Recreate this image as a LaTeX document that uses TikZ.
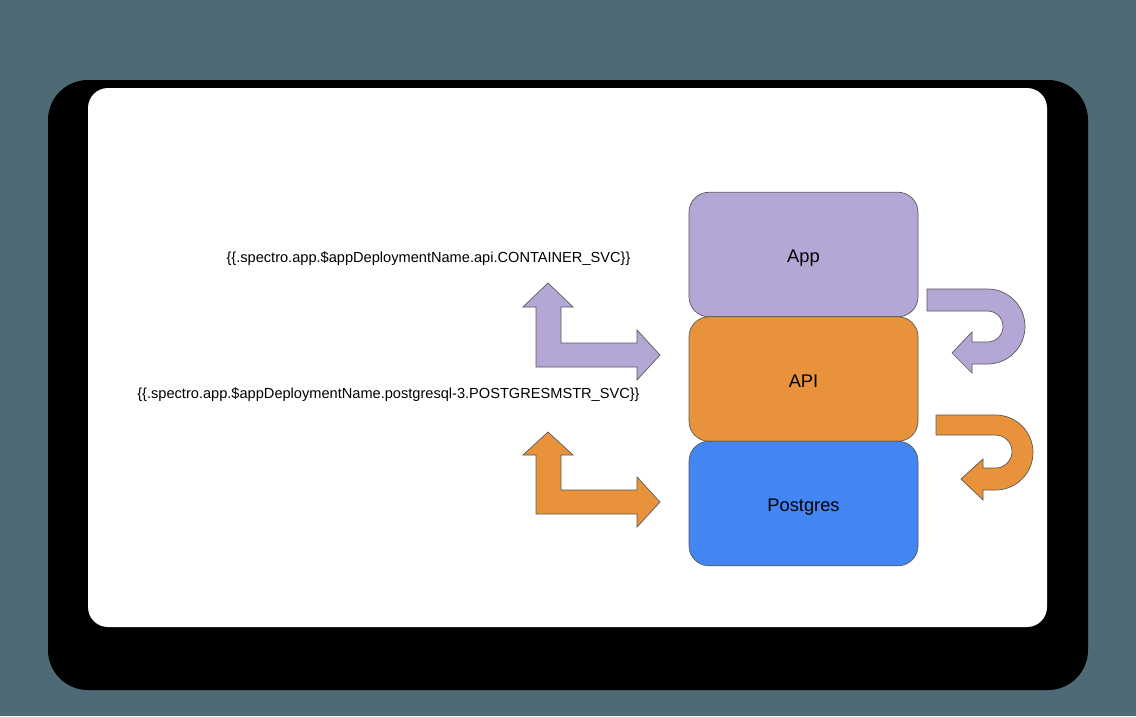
\documentclass[tikz,border=0pt]{standalone}
\usepackage{fontspec}
\setmainfont{Liberation Sans}
\definecolor{bgc}{HTML}{4E6A74}
\definecolor{appc}{HTML}{B4A7D6}
\definecolor{apic}{HTML}{E8933B}
\definecolor{pgc}{HTML}{4385F3}
\definecolor{linec}{HTML}{595959}
\tikzset{
  box/.style={draw=linec, line width=0.7pt, rounded corners=20pt, minimum width=229pt, minimum height=124.5pt, inner sep=0pt, text height=16.2pt, text depth=0pt, font=\fontsize{18.3}{20}\selectfont, text=black},
  shape arrow/.style={draw=linec, line width=0.7pt, line join=miter},
  label text/.style={inner sep=0pt, font=\fontsize{14.6}{16}\selectfont, text=black}
}
\begin{document}
\begin{tikzpicture}[x=1pt, y=1pt, yscale=-1]
\fill[bgc] (0,0) rectangle (1136,716);
\useasboundingbox (0,0) rectangle (1136,716);
% shadow and card
\fill[black, rounded corners=40pt] (48,80) rectangle (1088,690);
\fill[white, rounded corners=20pt] (88,88) rectangle (1047,627);
% boxes
\node[box, fill=appc] (app) at (803.5,254.5) {App};
\node[box, fill=apic] (api) at (803.5,379) {API};
\node[box, fill=pgc] (pg) at (803.5,503.5) {Postgres};
% labels
\node[label text] (svc1) at (428.5,259) {\{\{.spectro.app.\$appDeploymentName.api.CONTAINER\_SVC\}\}};
\node[label text] (svc2) at (388.5,395) {\{\{.spectro.app.\$appDeploymentName.postgresql-3.POSTGRESMSTR\_SVC\}\}};
% L arrows
\path[shape arrow, fill=appc] (548,283) -- (573,307) -- (561,307) -- (561,343) -- (637,343) -- (637,330) -- (660,355) -- (637,380) -- (637,367) -- (536,367) -- (536,307) -- (523,307) -- cycle;
\path[shape arrow, fill=apic] (548,432) -- (573,455) -- (561,455) -- (561,490) -- (637,490) -- (637,477) -- (660,502) -- (637,527) -- (637,514) -- (536,514) -- (536,455) -- (523,455) -- cycle;
% U-turn arrows
\path[shape arrow, fill=appc] (927,289) -- (987.5,289) arc[start angle=-90, end angle=90, radius=37.5] -- (972,364) -- (972,373) -- (952,353) -- (972,332) -- (972,342) -- (987.5,342) arc[start angle=90, end angle=-90, radius=15.5] -- (927,311) -- cycle;
\path[shape arrow, fill=apic] (936,415) -- (995.5,415) arc[start angle=-90, end angle=90, radius=37.5] -- (983,490) -- (983,500) -- (961,479) -- (983,459) -- (983,468) -- (995.5,468) arc[start angle=90, end angle=-90, radius=16.5] -- (936,435) -- cycle;
\end{tikzpicture}
\end{document}
